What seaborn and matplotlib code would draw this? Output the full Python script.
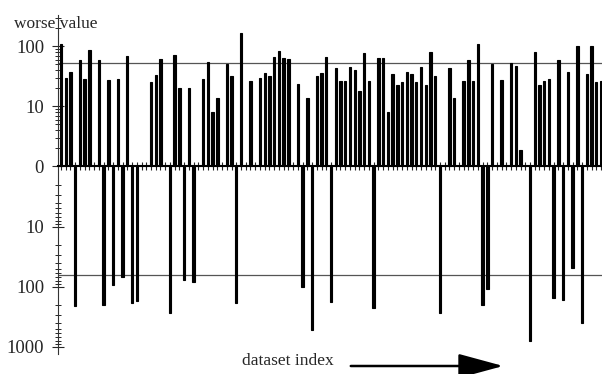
import numpy as np
import pandas as pd
import matplotlib
matplotlib.use('Agg')
import matplotlib.pyplot as plt
import seaborn as sns

# number of datasets along the x axis
n_sets = 115

# datasets where the value is worse on the upper side
up_idx = [0, 1, 2, 4, 5, 6, 8, 10, 12, 14, 19, 20, 21, 24, 25, 27, 30, 31, 32, 33,
          35, 36, 38, 40, 42, 43, 44, 45, 46, 47, 48, 50, 52, 54, 55, 56, 58, 59, 60, 61,
          62, 63, 64, 65, 67, 68, 69, 70, 71, 72, 73, 74, 75, 76, 77, 78, 79, 82, 83, 85,
          86, 87, 88, 91, 93, 95, 96, 97, 100, 101, 102, 103, 105, 107, 109, 111, 112, 113, 114]
up_val = [110, 30, 37, 59, 28, 85, 59, 27, 29, 68, 25, 33, 62, 72, 20, 20, 29, 54, 8, 14,
          51, 32, 166, 26, 30, 36, 32, 66, 83, 65, 62, 24, 14, 32, 36, 66, 44, 26, 26, 46,
          40, 18, 76, 26, 65, 65, 8, 34, 23, 25, 37, 34, 25, 45, 23, 79, 32, 43, 14, 26,
          59, 26, 110, 51, 27, 52, 47, 1.9, 79, 23, 26, 29, 58, 38, 100, 34, 100, 25, 26]

# datasets where the value is worse on the lower side
down_idx = [3, 9, 11, 13, 15, 16, 23, 26, 28, 37, 51, 53, 57, 66, 80, 89, 90, 99, 104, 106, 108, 110]
down_val = [210, 205, 93, 68, 186, 170, 270, 76, 85, 190, 100, 525, 178, 229, 270, 200, 110, 795,
            155, 166, 49, 400]

# reference levels (horizontal lines)
up_limit = 52
down_limit = 63

tick_pos = [2, 1, 0, -1, -2, -3]
tick_labels = ['100', '10', '0', '10', '100', '1000']

sns.set_style('white')
plt.rcParams['font.family'] = ['Liberation Serif', 'DejaVu Serif']

# signed log scale: up is +log10, down is -log10
score = np.zeros(n_sets)
score[up_idx] = np.log10(up_val)
score[down_idx] = -np.log10(down_val)
df = pd.DataFrame({'dataset': np.arange(n_sets), 'score': score})

fig = plt.figure(figsize=(6.02, 3.74), dpi=100)
ax = fig.add_axes([58 / 602, 20 / 374, 544 / 602, 339 / 374])

sns.barplot(data=df, x='dataset', y='score', color='black', width=0.5,
            saturation=1, errorbar=None, edgecolor='black', linewidth=0.8, ax=ax)

ax.axhline(np.log10(up_limit), color='#555555', lw=0.9, zorder=0)
ax.axhline(-np.log10(down_limit), color='#555555', lw=0.9, zorder=0)

# y ticks, with log minor ticks on both sides
ax.set_ylim(-3.12, 2.52)
ax.set_yticks(tick_pos)
ax.set_yticklabels(tick_labels)
minor = []
for d in range(3):
    for k in range(2, 10):
        v = np.log10(k * 10 ** d)
        if v < 2.52:
            minor.append(v)
        minor.append(-v)
ax.set_yticks([m for m in minor if -3.12 < m < 2.52], minor=True)
ax.tick_params(axis='y', which='major', direction='inout', length=8, width=0.8,
               pad=6, labelsize=13.5, left=True)
ax.tick_params(axis='y', which='minor', direction='inout', length=5, width=0.7, left=True)

# x axis drawn as the zero line with a tick at every dataset
ax.set_xticks(np.arange(n_sets))
ax.set_xticklabels([])
ax.set_xlim(-0.63, 114.2)
ax.tick_params(axis='x', direction='inout', length=6, width=0.8, bottom=True)
ax.spines['bottom'].set_position(('data', 0))
ax.spines['bottom'].set_linewidth(1.5)
ax.spines['bottom'].set_color('black')
ax.spines['left'].set_color('#333333')
ax.spines['left'].set_linewidth(0.8)
ax.spines['top'].set_visible(False)
ax.spines['right'].set_visible(False)
ax.set_xlabel('')
ax.set_ylabel('')

fig.text(56 / 602, 1 - 24 / 374, 'worse value', ha='center', va='center', fontsize=12.5)
fig.text(288 / 602, 1 - 361 / 374, 'dataset index', ha='center', va='center', fontsize=12.5)
ax.annotate('', xy=(506, 374 - 366), xytext=(348, 374 - 366), xycoords='figure pixels',
            arrowprops=dict(arrowstyle='-|>,head_length=1.4,head_width=0.38',
                            lw=1.8, color='black', mutation_scale=20))

fig.savefig('out.png', dpi=100)
